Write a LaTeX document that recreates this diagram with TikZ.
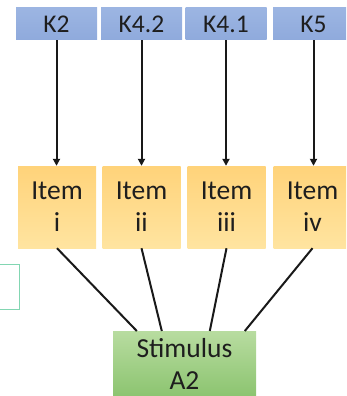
\documentclass[tikz,border=0pt]{standalone}
\usepackage{fontspec}
\setmainfont{Carlito}
\usetikzlibrary{arrows.meta,calc}
\definecolor{kblue}{RGB}{143,170,220}
\definecolor{kbluel}{RGB}{156,181,226}
\definecolor{itemtop}{RGB}{255,211,122}
\definecolor{itembot}{RGB}{255,228,160}
\definecolor{sttop}{RGB}{184,220,160}
\definecolor{stbot}{RGB}{140,196,112}
\definecolor{tealedge}{RGB}{130,214,178}
\definecolor{txt}{RGB}{30,30,30}
\tikzset{
  kbox/.style={rectangle, inner sep=0pt, minimum width=81pt, minimum height=32pt,
    top color=kbluel, bottom color=kblue, draw=none, text=txt,
    font=\fontsize{25.5}{28}\selectfont},
  itembox/.style={rectangle, inner sep=0pt, minimum width=78pt, minimum height=82pt,
    top color=itemtop, bottom color=itembot, draw=none, text=txt, align=center,
    font=\fontsize{27.5}{32}\selectfont},
  stbox/.style={rectangle, inner sep=0pt, minimum width=143pt, minimum height=65pt,
    top color=sttop, bottom color=stbot, draw=none, text=txt, align=center,
    font=\fontsize{27.5}{32}\selectfont},
  arr/.style={draw=black!90, line width=2pt, -{Triangle[length=7pt,width=7pt]}},
  link/.style={draw=black!90, line width=2pt}
}
\begin{document}
\begin{tikzpicture}[x=1pt,y=-1pt]
\useasboundingbox (0,0) rectangle (346,396);
\clip (0,0) rectangle (346,396);
% left partial box
\node[draw=tealedge, line width=1pt, fill=white, minimum width=80pt, minimum height=45pt, inner sep=0pt] (lb) at (-21,286.5) {};
% K boxes
\node[kbox] (k1) at (56.5,24) {K2};
\node[kbox] (k2) at (141.5,24) {K4.2};
\node[kbox] (k3) at (226,24) {K4.1};
\node[kbox] (k4) at (313.5,24) {K5};
% Item boxes
\node[itembox] (i1) at (57,207) {Item\\i};
\node[itembox] (i2) at (141.5,207) {Item\\ii};
\node[itembox] (i3) at (226.5,207) {Item\\iii};
\node[itembox] (i4) at (312.5,207) {Item\\iv};
% Stimulus
\node[stbox, anchor=north] (st) at (184.5,331) {Stimulus\\A2};
% arrows
\draw[arr] (k1.south) -- (k1.south |- i1.north);
\draw[arr] (k2.south) -- (k2.south |- i2.north);
\draw[arr] (k3.south) -- (k3.south |- i3.north);
\draw[arr] (k4.south) -- (k4.south |- i4.north);
% links
\draw[link] (i1.south) -- ([xshift=24pt]st.north west);
\draw[link] (i2.south) -- ([xshift=49pt]st.north west);
\draw[link] (i3.south) -- ([xshift=97pt]st.north west);
\draw[link] (i4.south) -- ([xshift=132pt]st.north west);
\end{tikzpicture}
\end{document}
